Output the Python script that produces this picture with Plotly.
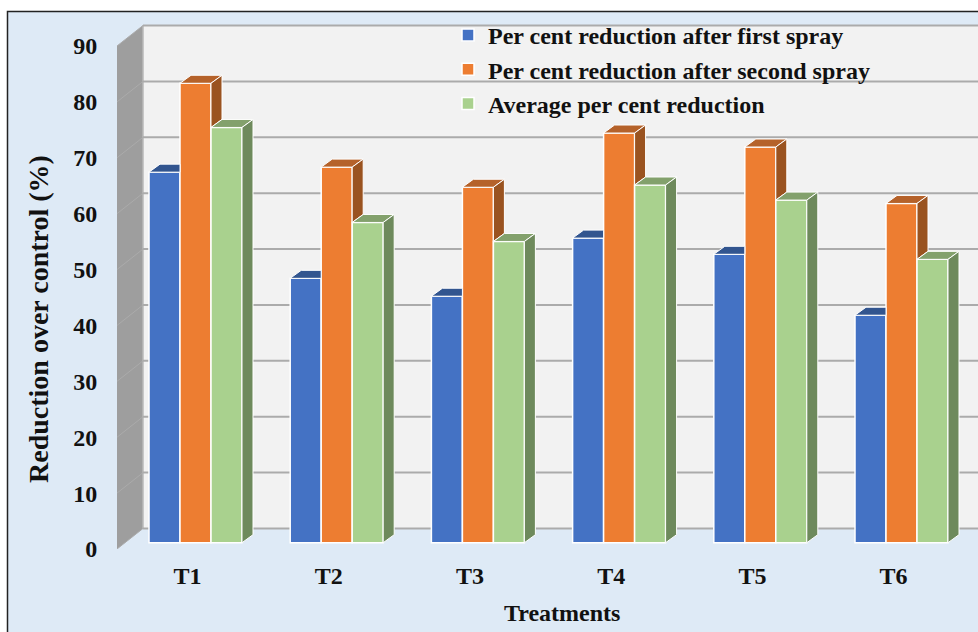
import plotly.graph_objects as go

categories = ["T1", "T2", "T3", "T4", "T5", "T6"]
first_spray = [66.3, 47.3, 44.1, 54.5, 51.6, 40.7]
second_spray = [82.2, 67.2, 63.6, 73.3, 70.8, 60.7]
average = [74.3, 57.3, 53.9, 64.0, 61.3, 50.7]
y_ticks = [0, 10, 20, 30, 40, 50, 60, 70, 80, 90]
series_names = ["Per cent reduction after first spray",
                "Per cent reduction after second spray",
                "Average per cent reduction"]

W, H = 978, 632
L, R, T, B = 117, 0, 12, 83
CAT_PX = 141.2
VAL_PX = 5.589
FONT = "Liberation Serif"
INK = "#111111"

def ux(px):
    return px / CAT_PX

def uy(px):
    return px / VAL_PX

x_idx = list(range(1, len(categories) + 1))
x_range = [0.5, 0.5 + (W - L - R) / CAT_PX]
y_range = [0, (H - T - B) / VAL_PX]

WALL_DX, WALL_DY = ux(26), uy(20.5)
BAR_DX, BAR_DY = ux(11), uy(8)
SHIFT_X, SHIFT_Y = ux(7.9), uy(6.3)
BAR_W = ux(31)

colors = ["#4472C4", "#ED7D31", "#A9D18E"]

fig = go.Figure()

for s, (name, vals, col) in enumerate(zip(series_names, [first_spray, second_spray, average], colors)):
    fig.add_bar(
        x=[i + SHIFT_X + (s - 1) * BAR_W for i in x_idx], y=vals, base=SHIFT_Y, width=BAR_W,
        name=name, legendgroup=name,
        marker=dict(color=col, line=dict(color="white", width=1.5)),
    )

def poly_trace(polys, color):
    xs, ys = [], []
    for p in polys:
        xs += [a for a, _ in p] + [p[0][0], None]
        ys += [b for _, b in p] + [p[0][1], None]
    fig.add_scatter(x=xs, y=ys, mode="lines", fill="toself", fillcolor=color,
                    line=dict(color="white", width=1), showlegend=False, hoverinfo="skip")

blue_top, orange_top, orange_side, green_top, green_side = [], [], [], [], []
for i, a, b, c in zip(x_idx, first_spray, second_spray, average):
    cx = i + SHIFT_X
    # blue top, cut at the orange bar's front edge
    xl, xr = cx - 1.5 * BAR_W, cx - 0.5 * BAR_W
    v = a + SHIFT_Y
    blue_top.append([(xl, v), (xl + BAR_DX, v + BAR_DY), (xr, v + BAR_DY), (xr, v)])
    # orange top and side, side cut by the green bar
    xl, xr = cx - 0.5 * BAR_W, cx + 0.5 * BAR_W
    v = b + SHIFT_Y
    vg = c + SHIFT_Y
    orange_top.append([(xl, v), (xl + BAR_DX, v + BAR_DY), (xr + BAR_DX, v + BAR_DY), (xr, v)])
    orange_side.append([(xr, v), (xr + BAR_DX, v + BAR_DY), (xr + BAR_DX, vg + BAR_DY), (xr, vg)])
    # green top and side
    xl, xr = cx + 0.5 * BAR_W, cx + 1.5 * BAR_W
    green_top.append([(xl, vg), (xl + BAR_DX, vg + BAR_DY), (xr + BAR_DX, vg + BAR_DY), (xr, vg)])
    green_side.append([(xr, vg), (xr + BAR_DX, vg + BAR_DY), (xr + BAR_DX, SHIFT_Y + BAR_DY), (xr, SHIFT_Y)])

poly_trace(blue_top, "#32558F")
poly_trace(orange_top, "#B5622A")
poly_trace(orange_side, "#9A5320")
poly_trace(green_top, "#83A16C")
poly_trace(green_side, "#6E8A5C")

# walls and gridlines, below the bars
x0 = x_range[0]
xb = x0 + WALL_DX
ymax = y_ticks[-1]
shapes = [
    dict(type="rect", xref="paper", yref="paper", layer="below",
         x0=(7.5 - L) / (W - L - R), x1=1.05,
         y0=-0.3, y1=1 + (T - 11.5) / (H - T - B),
         fillcolor="#DEEAF6", line=dict(color="#222222", width=1.5)),
    dict(type="path", xref="x", yref="y", layer="below",
         path=f"M{xb},{WALL_DY} L{xb},{ymax + WALL_DY} L{x_range[1] + 1},{ymax + WALL_DY} L{x_range[1] + 1},{WALL_DY} Z",
         fillcolor="#F2F2F2", line=dict(width=0)),
    dict(type="path", xref="x", yref="y", layer="below",
         path=f"M{x0},0 L{x0},{ymax} L{xb},{ymax + WALL_DY} L{xb},{WALL_DY} Z",
         fillcolor="#9E9E9E", line=dict(width=0)),
    dict(type="line", xref="x", yref="y", layer="below",
         x0=xb, x1=xb, y0=WALL_DY, y1=ymax + WALL_DY, line=dict(color="#B8B8B8", width=1.5)),
]
for t in y_ticks:
    shapes.append(dict(type="line", xref="x", yref="y", layer="below",
                       x0=xb, x1=x_range[1] + 1, y0=t + WALL_DY, y1=t + WALL_DY,
                       line=dict(color="#ABABAB", width=2)))
    shapes.append(dict(type="line", xref="x", yref="y", layer="below",
                       x0=x0, x1=xb, y0=t, y1=t + WALL_DY,
                       line=dict(color="#ABABAB", width=1)))

tick_font = dict(family=FONT, size=24, color=INK, weight="bold")

fig.update_layout(
    width=W, height=H, autosize=False,
    margin=dict(l=L, r=R, t=T, b=B, pad=0),
    paper_bgcolor="white", plot_bgcolor="rgba(0,0,0,0)",
    barmode="overlay", shapes=shapes,
    xaxis=dict(range=x_range, tickmode="array", tickvals=x_idx, ticktext=categories,
               showgrid=False, zeroline=False, showline=False,
               ticks="outside", ticklen=5, tickcolor="rgba(0,0,0,0)", tickfont=tick_font),
    yaxis=dict(range=y_range, tickmode="array", tickvals=y_ticks,
               showgrid=False, zeroline=False, showline=False,
               ticks="outside", ticklen=14, tickcolor="rgba(0,0,0,0)", tickfont=tick_font),
    legend=dict(x=(448 - L) / (W - L - R), xanchor="left",
                y=1 - (13 - T) / (H - T - B), yanchor="top",
                bgcolor="rgba(0,0,0,0)", borderwidth=0, tracegroupgap=0,
                traceorder="grouped",
                font=dict(family=FONT, size=24, color=INK, weight="bold")),
    annotations=[
        dict(text="Treatments", xref="paper", yref="paper", showarrow=False,
             x=(562 - L) / (W - L - R), y=-(613 - (H - B)) / (H - T - B),
             xanchor="center", yanchor="middle",
             font=dict(family=FONT, size=24, color=INK, weight="bold")),
        dict(text="Reduction over control (%)", xref="paper", yref="paper", showarrow=False,
             x=(38 - L) / (W - L - R), y=1 - (319 - T) / (H - T - B), textangle=-90,
             xanchor="center", yanchor="middle",
             font=dict(family=FONT, size=28, color=INK, weight="bold")),
    ],
)
fig.write_html("out.html", post_script="document.body.style.margin='0';",
               config={"displayModeBar": False})
